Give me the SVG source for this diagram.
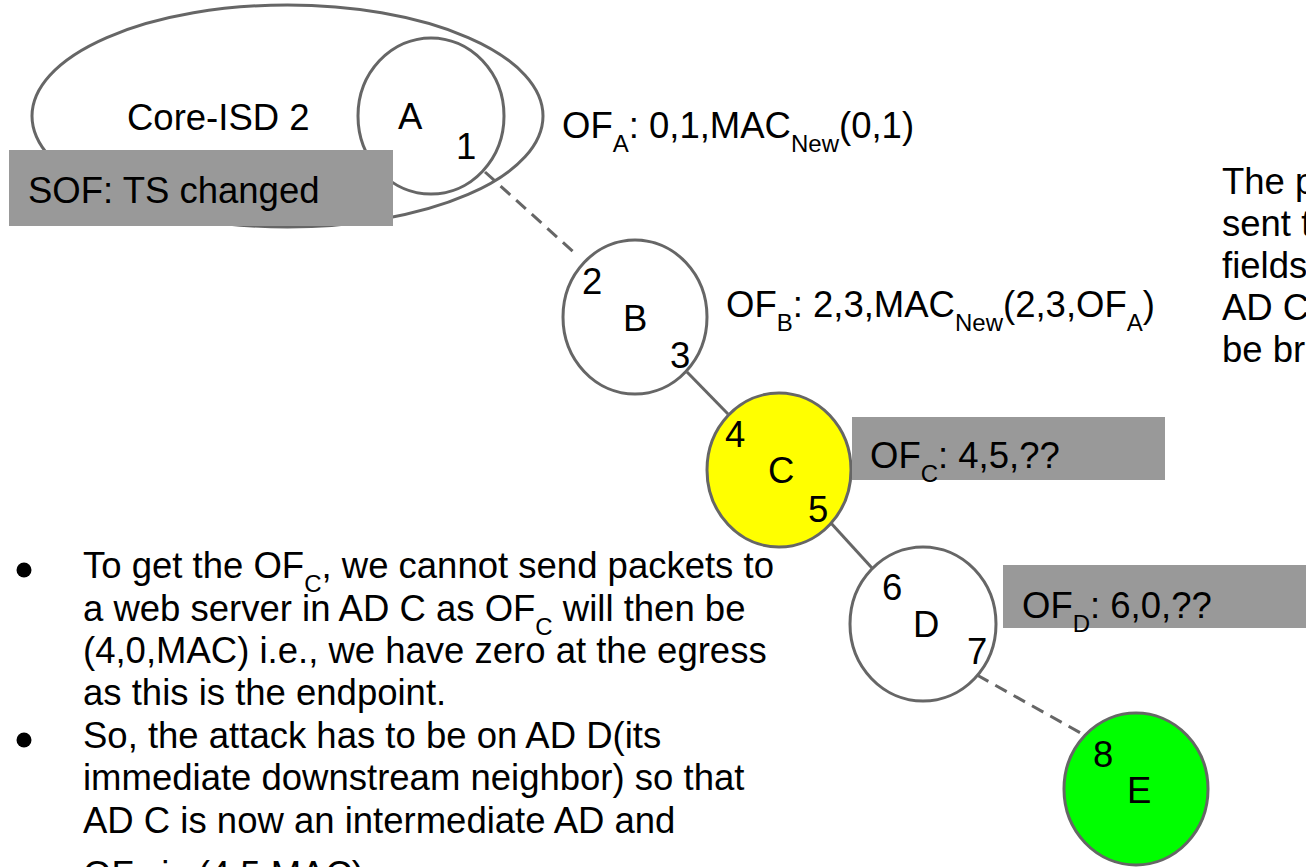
<svg xmlns="http://www.w3.org/2000/svg" width="1306" height="867" viewBox="0 0 1306 867">
<style>
  text { font-family: "Liberation Sans", Arial, sans-serif; font-size: 36.5px; fill: #000; }
  .node { fill: #fff; stroke: #666; stroke-width: 3; }
  .yellow { fill: #ffff00; }
  .green { fill: #00ff00; }
  .box { fill: #999; stroke: none; }
  .link { stroke: #666; stroke-width: 3; fill: none; }
  .dash { stroke-dasharray: 13 8; }
  .sub { font-size: 24px; }
  .bullet { fill: #000; }
</style>
<rect x="0" y="0" width="1306" height="867" fill="#fff"/>

<g id="core-isd-2">
  <ellipse class="node" cx="287.5" cy="116" rx="255.5" ry="111"/>
  <text x="127" y="130">Core-ISD 2</text>
</g>

<g id="node-A">
  <ellipse class="node" cx="431" cy="116" rx="73" ry="78"/>
  <text x="398" y="129">A</text>
  <text x="456" y="159">1</text>
</g>

<g id="connectors">
  <line class="link dash" x1="485" y1="172" x2="578" y2="256"/>
  <line class="link" x1="687" y1="372" x2="728" y2="414"/>
  <line class="link" x1="830" y1="522" x2="872" y2="568"/>
  <line class="link dash" x1="977" y1="675" x2="1086" y2="736"/>
</g>

<g id="sof-box">
  <rect class="box" x="9" y="150" width="384" height="76"/>
  <text x="28" y="203">SOF: TS changed</text>
</g>

<g id="label-OFA">
  <text x="562" y="138">OF<tspan class="sub" dy="14">A</tspan><tspan dy="-14">: 0,1,MAC</tspan><tspan class="sub" dy="14">New</tspan><tspan dy="-14">(0,1)</tspan></text>
</g>

<g id="node-B">
  <ellipse class="node" cx="635" cy="317" rx="72" ry="77"/>
  <text x="582" y="294">2</text>
  <text x="623" y="331">B</text>
  <text x="670" y="368">3</text>
</g>

<g id="label-OFB">
  <text x="726" y="317">OF<tspan class="sub" dy="14">B</tspan><tspan dy="-14">: 2,3,MAC</tspan><tspan class="sub" dy="14">New</tspan><tspan dy="-14">(2,3,OF</tspan><tspan class="sub" dy="14">A</tspan><tspan dy="-14">)</tspan></text>
</g>

<g id="node-C">
  <ellipse class="node yellow" cx="779" cy="470" rx="72" ry="77"/>
  <text x="725" y="447">4</text>
  <text x="768" y="483">C</text>
  <text x="808" y="522">5</text>
</g>

<g id="box-OFC">
  <rect class="box" x="852" y="417" width="313" height="63"/>
  <text x="870" y="468">OF<tspan class="sub" dy="14">C</tspan><tspan dy="-14">: 4,5,??</tspan></text>
</g>

<g id="node-D">
  <ellipse class="node" cx="923" cy="624" rx="73" ry="77"/>
  <text x="882" y="600">6</text>
  <text x="913" y="637">D</text>
  <text x="967" y="664">7</text>
</g>

<g id="box-OFD">
  <rect class="box" x="1003" y="565" width="303" height="63"/>
  <text x="1022" y="618">OF<tspan class="sub" dy="14">D</tspan><tspan dy="-14">: 6,0,??</tspan></text>
</g>

<g id="node-E">
  <ellipse class="node green" cx="1136" cy="789" rx="72" ry="76"/>
  <text x="1093" y="767">8</text>
  <text x="1127" y="803">E</text>
</g>

<g id="bullets">
  <circle class="bullet" cx="24" cy="570" r="7.5"/>
  <circle class="bullet" cx="24" cy="740" r="7.5"/>
  <text x="83" y="578">To get the OF<tspan class="sub" dy="14">C</tspan><tspan dy="-14">, we cannot send packets to</tspan></text>
  <text x="83" y="621">a web server in AD C as OF<tspan class="sub" dy="14">C</tspan><tspan dy="-14"> will then be</tspan></text>
  <text x="83" y="663">(4,0,MAC) i.e., we have zero at the egress</text>
  <text x="83" y="705">as this is the endpoint.</text>
  <text x="83" y="748">So, the attack has to be on AD D(its</text>
  <text x="83" y="790">immediate downstream neighbor) so that</text>
  <text x="83" y="833">AD C is now an intermediate AD and</text>
  <text x="83" y="887">OF<tspan class="sub" dy="14">C</tspan><tspan dy="-14"> is (4,5,MAC)</tspan></text>
</g>

<g id="side-note">
  <text x="1222" y="194">The p</text>
  <text x="1222" y="236">sent t</text>
  <text x="1222" y="278">fields</text>
  <text x="1222" y="320">AD C</text>
  <text x="1222" y="362">be br</text>
</g>
</svg>
